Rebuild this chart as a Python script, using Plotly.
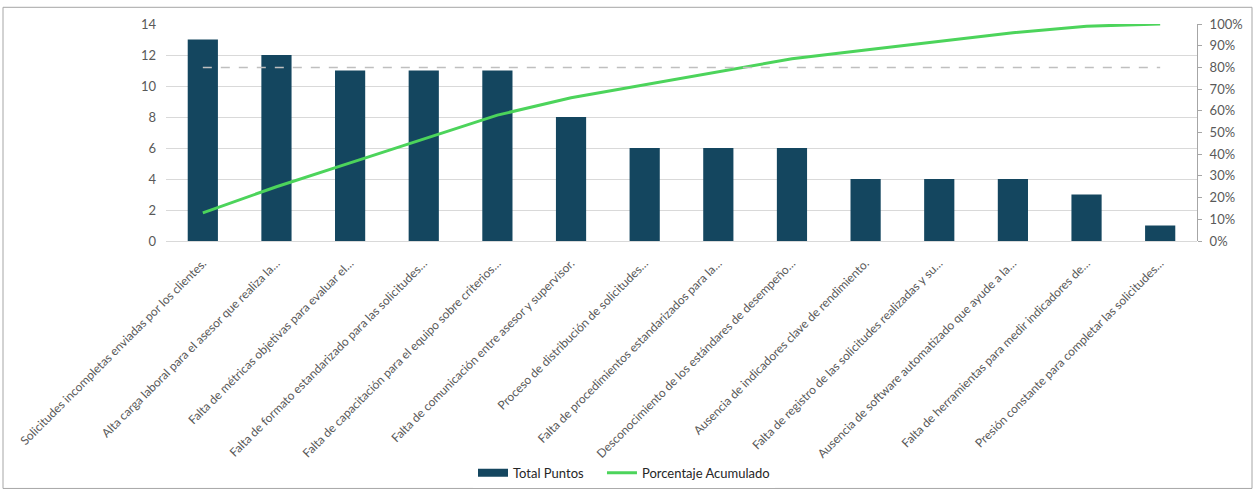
import plotly.graph_objects as go

categories = [
    "Solicitudes incompletas enviadas por los clientes.",
    "Alta carga laboral para el asesor que realiza la…",
    "Falta de métricas objetivas para evaluar el…",
    "Falta de formato estandarizado para las solicitudes…",
    "Falta de capacitación para el equipo sobre criterios…",
    "Falta de comunicación entre asesor y supervisor.",
    "Proceso de distribución de solicitudes…",
    "Falta de procedimientos estandarizados para la…",
    "Desconocimiento de los estándares de desempeño…",
    "Ausencia de indicadores clave de rendimiento.",
    "Falta de registro de las solicitudes realizadas y su…",
    "Ausencia de software automatizado que ayude a la…",
    "Falta de herramientas para medir indicadores de…",
    "Presión constante para completar las solicitudes…",
]
total_puntos = [13, 12, 11, 11, 11, 8, 6, 6, 6, 4, 4, 4, 3, 1]
porcentaje_acumulado = [13, 25, 36, 47, 58, 66, 72, 78, 84, 88, 92, 96, 99, 100]
referencia_80 = [80] * len(categories)

BAR = "#14465F"
GREEN = "#4CD45B"
GRID = "#D9D9D9"
TXT = "#595959"
FONT = "Lato, Open Sans, sans-serif"

fig = go.Figure()
fig.add_trace(go.Bar(x=categories, y=total_puntos, name="Total Puntos", showlegend=False,
                     legendgroup="bar",
                     marker=dict(color=BAR, line=dict(width=0)), width=0.41))
# legend proxy giving a wide rectangular swatch like the reference
fig.add_trace(go.Scatter(x=[None], y=[None], name="Total Puntos\u00a0\u00a0\u00a0\u00a0", mode="lines",
                         legendgroup="bar", line=dict(color=BAR, width=8)))
fig.add_trace(go.Scatter(x=categories, y=porcentaje_acumulado, name="Porcentaje Acumulado",
                         mode="lines", line=dict(color=GREEN, width=3), yaxis="y2"))
fig.add_trace(go.Scatter(x=categories, y=referencia_80, mode="lines", showlegend=False,
                         line=dict(color="#BFBFBF", width=1.5, dash="dash"), yaxis="y2",
                         hoverinfo="skip"))

L, R, T, B = 166, 59, 24, 255
W, H = 1256, 500
pw = W - L - R
ph = H - T - B

def px_x(p):
    return (p - L) / pw

def px_y(p):
    return (H - B - p) / ph

fig.update_layout(
    width=W, height=H,
    margin=dict(l=L, r=R, t=T, b=B),
    paper_bgcolor="white", plot_bgcolor="white",
    font=dict(family=FONT, color=TXT, size=12),
    bargap=0.59,
    xaxis=dict(tickangle=-45, tickfont=dict(size=12, color=TXT, family=FONT),
               showgrid=False, showline=False, ticks="", automargin=False,
               ticklabelstandoff=12),
    yaxis=dict(range=[0, 14], dtick=2, showgrid=True, gridcolor=GRID, gridwidth=1,
               zeroline=True, zerolinecolor=GRID, zerolinewidth=1,
               tickfont=dict(size=13, color=TXT), ticks="", ticklen=0,
               showline=False, automargin=False, ticklabelstandoff=9),
    yaxis2=dict(range=[0, 100], dtick=10, overlaying="y", side="right",
                ticksuffix="%", showgrid=False, zeroline=False,
                showline=True, linecolor="#A6A6A6", linewidth=1,
                ticks="outside", ticklen=4, tickcolor="#A6A6A6",
                tickfont=dict(size=13, color=TXT), automargin=False,
                ticklabelstandoff=5),
    legend=dict(orientation="h", x=px_x(473), xanchor="left", y=px_y(481), yanchor="middle",
                font=dict(size=13, color="#262626", family=FONT),
                itemwidth=30, tracegroupgap=0),
    showlegend=True,
    shapes=[dict(type="rect", xref="paper", yref="paper",
                 x0=px_x(3), x1=px_x(1252), y0=px_y(497), y1=px_y(7),
                 line=dict(color="#A6A6A6", width=1), fillcolor="rgba(0,0,0,0)", layer="below")],
)

fig.write_html("out.html")
